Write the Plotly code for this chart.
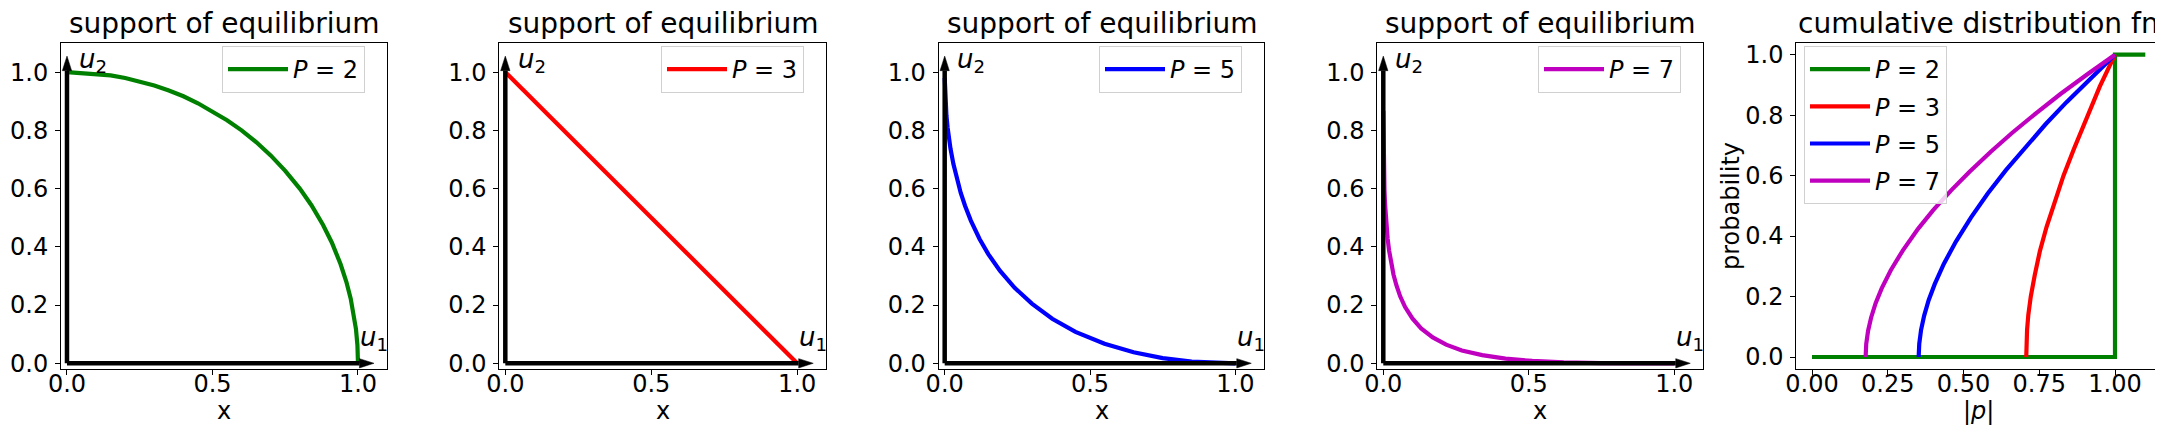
import plotly.graph_objects as go

W, H = 2163, 432
FONT = "DejaVu Sans"

# ---------------- data ----------------
P_LABELS = ["2", "3", "5", "7"]
COLORS = ["#008000", "#ff0000", "#0000ff", "#bf00bf"]

# support of equilibrium curves (u1, u2)
sup2_x = [0.0, 0.1, 0.15, 0.2, 0.25, 0.3, 0.35, 0.4, 0.45, 0.5, 0.55, 0.6, 0.65, 0.7, 0.75, 0.8,
          0.84, 0.88, 0.91, 0.94, 0.96, 0.975, 0.985, 0.993, 0.998, 1.0]
sup2_y = [1.0, 0.995, 0.989, 0.980, 0.968, 0.954, 0.937, 0.917, 0.893, 0.866, 0.835, 0.800, 0.760,
          0.714, 0.661, 0.600, 0.543, 0.475, 0.415, 0.341, 0.280, 0.222, 0.173, 0.118, 0.063, 0.0]

sup3_x = [0.0, 0.25, 0.5, 0.75, 1.0]
sup3_y = [1.0, 0.75, 0.5, 0.25, 0.0]

sup5_x = [0.0001, 0.001, 0.003, 0.006, 0.01, 0.015, 0.02, 0.03, 0.04, 0.055, 0.07, 0.09, 0.12, 0.15,
          0.19, 0.24, 0.3, 0.37, 0.45, 0.55, 0.65, 0.75, 0.85, 1.0]
sup5_y = [0.98, 0.938, 0.893, 0.851, 0.81, 0.770, 0.737, 0.684, 0.64, 0.586, 0.541, 0.49, 0.427, 0.375,
          0.318, 0.260, 0.205, 0.153, 0.108, 0.067, 0.038, 0.018, 0.006, 0.0]

sup7_x = [0.0001, 0.0003, 0.0006, 0.001, 0.0015, 0.002, 0.003, 0.004, 0.006, 0.008, 0.011, 0.015,
          0.02, 0.027, 0.035, 0.045, 0.058, 0.075, 0.1, 0.13, 0.17, 0.216, 0.27, 0.34, 0.42, 0.512,
          0.62, 0.75, 0.88, 1.0]
sup7_y = [0.867, 0.812, 0.768, 0.729, 0.694, 0.668, 0.627, 0.596, 0.548, 0.512, 0.470, 0.428,
          0.387, 0.343, 0.305, 0.268, 0.230, 0.193, 0.154, 0.120, 0.089, 0.064, 0.044, 0.028, 0.016,
          0.008, 0.003, 0.0008, 0.0001, 0.0]

# cumulative distribution of |p|
cdf2_p = [0.0, 1.0, 1.0, 1.1]
cdf2_v = [0.0, 0.0, 1.0, 1.0]

cdf3_p = [0.7071, 0.7078, 0.7098, 0.714, 0.722, 0.735, 0.752, 0.774, 0.800, 0.830, 0.865, 0.905, 0.950, 1.0]
cdf3_v = [0.0, 0.04, 0.09, 0.14, 0.2, 0.27, 0.35, 0.43, 0.51, 0.6, 0.69, 0.79, 0.895, 1.0]

cdf5_p = [0.352, 0.354, 0.36, 0.37, 0.385, 0.405, 0.435, 0.475, 0.525, 0.58, 0.64, 0.70, 0.77, 0.84, 0.92, 1.0]
cdf5_v = [0.0, 0.044, 0.090, 0.136, 0.188, 0.241, 0.308, 0.382, 0.462, 0.541, 0.618, 0.690, 0.769, 0.843, 0.923, 1.0]

cdf7_p = [0.177, 0.179, 0.185, 0.195, 0.21, 0.23, 0.26, 0.30, 0.35, 0.40, 0.46, 0.52, 0.59, 0.66, 0.74, 0.82, 0.91, 1.0]
cdf7_v = [0.0, 0.043, 0.086, 0.130, 0.178, 0.227, 0.287, 0.353, 0.424, 0.486, 0.552, 0.613, 0.679, 0.741, 0.807, 0.870, 0.936, 1.0]

SUP_X = [sup2_x, sup3_x, sup5_x, sup7_x]
SUP_Y = [sup2_y, sup3_y, sup5_y, sup7_y]
CDF_P = [cdf2_p, cdf3_p, cdf5_p, cdf7_p]
CDF_V = [cdf2_v, cdf3_v, cdf5_v, cdf7_v]

TITLE_SUP = "support of equilibrium"
TITLE_CDF = "cumulative distribution fn"

# ---------------- layout geometry (pixels) ----------------
panel_px = [(53, 379), (491.3, 818.3), (930.7, 1256.3), (1369.3, 1695.3), (1788.3, 2153.3)]
top_px, bot_px = 35, 361
legend_right_px = [357, 796, 1234, 1673]
legend_top_px = 38
LW = 4.2

fig = go.Figure()
layout = dict(
    width=W, height=H, margin=dict(l=0, r=0, t=0, b=0, autoexpand=False),
    plot_bgcolor="white", paper_bgcolor="white",
    font=dict(family=FONT, size=24, color="black"),
    showlegend=True,
)
ydom = [1 - bot_px / H, 1 - top_px / H]

def axis_common():
    return dict(showgrid=False, zeroline=False, showline=True, mirror=True, automargin=False,
                linecolor="black", linewidth=1, ticks="outside", ticklen=5,
                tickwidth=1, tickcolor="black",
                tickfont=dict(family=FONT, size=24, color="black"))

annotations = []
shapes = []

for i in range(5):
    n = "" if i == 0 else str(i + 1)
    xa, ya = "x" + n, "y" + n
    x0, x1 = panel_px[i]
    xax = axis_common()
    yax = axis_common()
    xax.update(domain=[x0 / W, x1 / W], anchor=ya, ticklabelstandoff=-12)
    yax.update(domain=ydom, anchor=xa, ticklabelstandoff=2)
    if i < 4:
        xax.update(range=[-0.0206, 1.0997], tickvals=[0, 0.5, 1.0], tickformat=".1f")
        yax.update(range=[-0.0196, 1.1], tickvals=[0, 0.2, 0.4, 0.6, 0.8, 1.0], tickformat=".1f")
    else:
        xax.update(range=[-0.0518, 1.1528], tickvals=[0, 0.25, 0.5, 0.75, 1.0], tickformat=".2f")
        yax.update(range=[-0.0397, 1.0387], tickvals=[0, 0.2, 0.4, 0.6, 0.8, 1.0], tickformat=".1f")
    layout["xaxis" + n] = xax
    layout["yaxis" + n] = yax

    cx = (x0 + x1) / 2 / W
    annotations.append(dict(text=TITLE_SUP if i < 4 else TITLE_CDF, xref="paper", yref="paper",
                            x=cx, y=1 - 16 / H, xanchor="center", yanchor="middle",
                            showarrow=False, font=dict(family=FONT, size=28, color="black")))
    annotations.append(dict(text="x" if i < 4 else "|<i>p</i>|", xref="paper", yref="paper",
                            x=cx, y=1 - 403 / H,
                            xanchor="center", yanchor="middle", showarrow=False,
                            font=dict(family=FONT, size=24, color="black")))

    if i < 4:
        fig.add_trace(go.Scatter(x=SUP_X[i], y=SUP_Y[i], mode="lines", xaxis=xa, yaxis=ya,
                                 line=dict(color=COLORS[i], width=LW),
                                 name="<i>P</i> = " + P_LABELS[i],
                                 legend="legend" + n))
        layout["legend" + n] = dict(x=legend_right_px[i] / W, y=1 - legend_top_px / H, xanchor="right",
                                    yanchor="top", bgcolor="rgba(255,255,255,0.8)",
                                    bordercolor="#d0d0d0", borderwidth=1, itemwidth=60,
                                    font=dict(family=FONT, size=24, color="black"))
        # axis arrows (u1 horizontal, u2 vertical)
        tip, base, hw = 1.055, 1.005, 0.016
        shapes.append(dict(type="line", xref=xa, yref=ya, x0=0, y0=0, x1=base, y1=0,
                           line=dict(color="black", width=4.5), layer="above"))
        shapes.append(dict(type="line", xref=xa, yref=ya, x0=0, y0=0, x1=0, y1=base,
                           line=dict(color="black", width=4.5), layer="above"))
        shapes.append(dict(type="path", xref=xa, yref=ya,
                           path=f"M {base},{-hw} L {tip},0 L {base},{hw} Z",
                           fillcolor="black", line=dict(color="black", width=0.5), layer="above"))
        shapes.append(dict(type="path", xref=xa, yref=ya,
                           path=f"M {-hw},{base} L 0,{tip} L {hw},{base} Z",
                           fillcolor="black", line=dict(color="black", width=0.5), layer="above"))
        annotations.append(dict(text="<i>u</i><sub>1</sub>", xref=xa, yref=ya, x=1.0, y=0.02,
                                xanchor="left", yanchor="bottom", showarrow=False,
                                font=dict(family=FONT, size=26, color="black")))
        annotations.append(dict(text="<i>u</i><sub>2</sub>", xref=xa, yref=ya, x=0.035, y=0.975,
                                xanchor="left", yanchor="bottom", showarrow=False,
                                font=dict(family=FONT, size=26, color="black")))
    else:
        for k in range(4):
            fig.add_trace(go.Scatter(x=CDF_P[k], y=CDF_V[k], mode="lines", xaxis=xa, yaxis=ya,
                                     line=dict(color=COLORS[k], width=LW),
                                     name="<i>P</i> = " + P_LABELS[k], legend="legend5",
                                     legendgroup="g" + P_LABELS[k]))
        layout["legend5"] = dict(x=1796 / W, y=1 - legend_top_px / H, xanchor="left", yanchor="top",
                                 bgcolor="rgba(255,255,255,0.8)", bordercolor="#d0d0d0",
                                 borderwidth=1, tracegroupgap=3, traceorder="grouped",
                                 itemwidth=60,
                                 font=dict(family=FONT, size=24, color="black"))
        annotations.append(dict(text="probability", xref="paper", yref="paper",
                                x=1723 / W, y=(1 - 198 / H), textangle=-90,
                                xanchor="center", yanchor="middle", showarrow=False,
                                font=dict(family=FONT, size=24, color="black")))

layout["annotations"] = annotations
layout["shapes"] = shapes
fig.update_layout(**layout)
fig.write_html("out.html")
